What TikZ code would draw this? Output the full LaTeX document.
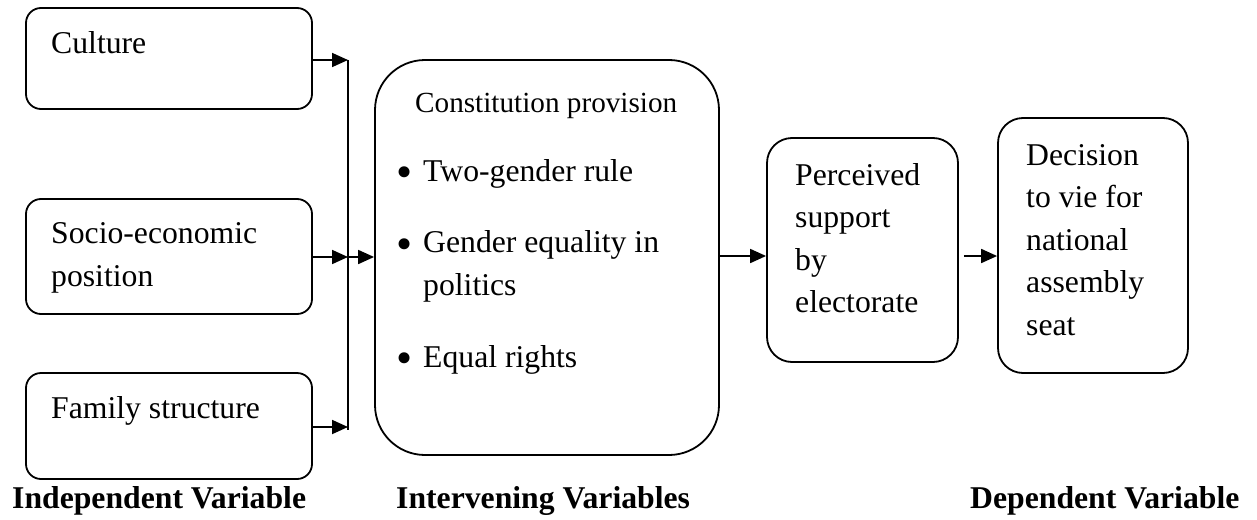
\documentclass[tikz,border=0pt]{standalone}
\usepackage{fontspec}
\setmainfont{Liberation Serif}
\usetikzlibrary{arrows.meta}
\begin{document}
\begin{tikzpicture}[x=1pt,y=-1pt,
  box/.style={draw, line width=1.8pt, inner sep=0pt},
  txt/.style={anchor=base west, inner sep=0pt, align=left, font=\fontsize{31.7}{42.5}\selectfont},
  small/.style={anchor=base west, inner sep=0pt, font=\fontsize{29.2}{35}\selectfont},
  lbl/.style={anchor=base west, inner sep=0pt, font=\fontsize{31.7}{38}\selectfont\bfseries},
  bul/.style={anchor=center, inner sep=0pt, font=\fontsize{46}{46}\selectfont},
  arr/.style={line width=1.8pt, -{Triangle[length=16pt,width=14pt]}},
  ln/.style={line width=1.8pt}]
\useasboundingbox (0,0) rectangle (1257,519);
% boxes
\node[box, rounded corners=15pt, minimum width=286pt, minimum height=101pt] (cul) at (169,58.5) {};
\node[box, rounded corners=15pt, minimum width=286pt, minimum height=115pt] (soc) at (169,256.5) {};
\node[box, rounded corners=15pt, minimum width=286pt, minimum height=106pt] (fam) at (169,426) {};
\node[box, rounded corners=50pt, minimum width=344pt, minimum height=395pt] (con) at (547,257.5) {};
\node[box, rounded corners=25pt, minimum width=191pt, minimum height=224pt] (per) at (862.5,250) {};
\node[box, rounded corners=25pt, minimum width=190pt, minimum height=255pt] (dec) at (1093,245.5) {};
% texts (multi-line nodes: base = last line)
\node[txt] (tcul) at (51,53) {Culture};
\node[txt] (tsoc) at (51,286) {\fontsize{31.7}{44}\selectfont Socio-economic\\position};
\node[txt] (tfam) at (51,418) {Family structure};
\node[small] (tcon) at (415,112) {Constitution provision};
\node[bul] (b1) at (405,177) {\textbullet};
\node[txt] (t1) at (423,181) {Two-gender rule};
\node[bul] (b2) at (405,249) {\textbullet};
\node[txt] (t2) at (423,295) {\fontsize{31.7}{42}\selectfont Gender equality in\\politics};
\node[bul] (b3) at (405,363) {\textbullet};
\node[txt] (t3) at (423,367) {Equal rights};
\node[txt] (tper) at (795,312.5) {Perceived\\support\\by\\electorate};
\node[txt] (tdec) at (1026,335) {Decision\\to vie for\\national\\assembly\\seat};
\node[lbl] (l1) at (12,508) {Independent Variable};
\node[lbl] (l2) at (396,508) {Intervening Variables};
\node[lbl] (l3) at (970,508) {Dependent Variable};
% connectors
\coordinate (btop) at (348,60);
\coordinate (bmid) at (348,257);
\coordinate (bbot) at (348,427);
\coordinate (bend) at (348,430);
\coordinate (m1) at (740,256);
\draw[ln] (btop) -- (bend);
\draw[arr] (cul.east |- btop) -- (btop);
\draw[arr] (soc.east |- bmid) -- (bmid);
\draw[arr] (fam.east |- bbot) -- (bbot);
\draw[arr] (bmid) -- (con.west |- bmid);
\draw[arr] (con.east |- m1) -- (per.west |- m1);
\draw[arr] ([xshift=5pt]per.east |- m1) -- (dec.west |- m1);
\end{tikzpicture}
\end{document}
